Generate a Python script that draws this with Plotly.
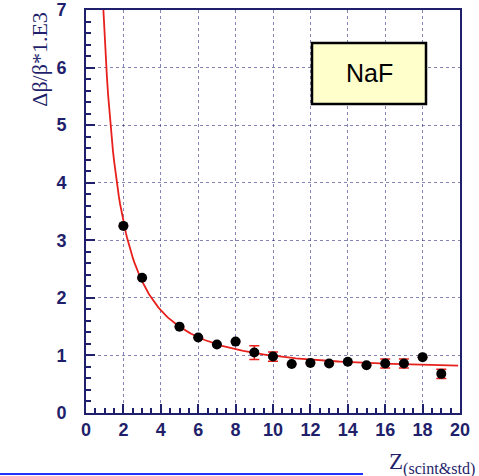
import numpy as np
import plotly.graph_objects as go

# Data
z_vals = [2, 3, 5, 6, 7, 8, 9, 10, 11, 12, 13, 14, 15, 16, 17, 18, 19]
res_vals = [3.25, 2.35, 1.50, 1.31, 1.19, 1.24, 1.05, 0.98, 0.85, 0.87, 0.86, 0.89, 0.83, 0.86, 0.86, 0.97, 0.68]
res_err = [0, 0, 0, 0, 0, 0, 0.12, 0.08, 0, 0, 0, 0, 0, 0.08, 0.08, 0, 0.08]

# Fit function parameters: sqrt(a/Z^2 + b)
fit_a = 41.9
fit_b = 0.57
fit_zmin, fit_zmax = 0.93, 19.9

x_ticks = [0, 2, 4, 6, 8, 10, 12, 14, 16, 18, 20]
y_ticks = [0, 1, 2, 3, 4, 5, 6, 7]

navy = "#1f1f6b"
gridc = "rgba(50,50,130,0.6)"

zf = np.linspace(fit_zmin, fit_zmax, 300)
yf = np.sqrt(fit_a / zf**2 + fit_b)

fig = go.Figure()
fig.add_trace(go.Scatter(x=zf, y=yf, mode="lines",
                         line=dict(color="#e8201c", width=1.8), showlegend=False,
                         hoverinfo="skip"))
fig.add_trace(go.Scatter(x=z_vals, y=res_vals, mode="markers",
                         marker=dict(color="black", size=10),
                         error_y=dict(type="data", array=res_err, color="#e8201c",
                                      thickness=1.5, width=5),
                         showlegend=False))

axis_common = dict(
    showline=True, linecolor=navy, linewidth=2, mirror=True,
    ticks="inside", tickcolor=navy, tickwidth=2, ticklen=9,
    showgrid=True, gridcolor=gridc, griddash="dot", gridwidth=1,
    zeroline=False, automargin=False,
    tickfont=dict(family="Liberation Sans, Arial", size=18, color=navy),
)

fig.update_xaxes(range=[0, 20], tickvals=x_ticks, ticktext=[f"<b>{v}</b>" for v in x_ticks],
                 minor=dict(dtick=0.5, tick0=0, ticks="inside", ticklen=5, tickcolor=navy,
                            tickwidth=2, showgrid=False),
                 ticklabelstandoff=-1, **axis_common)
fig.update_yaxes(range=[0, 7], tickvals=y_ticks, ticktext=[f"<b>{v}</b>" for v in y_ticks],
                 minor=dict(dtick=0.2, tick0=0, ticks="inside", ticklen=5, tickcolor=navy,
                            tickwidth=2, showgrid=False),
                 ticklabelstandoff=14, **axis_common)

fig.update_layout(
    width=479, height=476,
    margin=dict(l=86, r=19, t=10, b=63),
    plot_bgcolor="white", paper_bgcolor="white",
    annotations=[
        dict(text="Δβ/β*1.E3", xref="paper", yref="paper",
             x=-0.125, y=1.0, xanchor="center", yanchor="top", textangle=-90,
             showarrow=False,
             font=dict(family="Liberation Serif, Times New Roman", size=22, color=navy)),
        dict(text="Z<sub>(scint&amp;std)</sub>", xref="paper", yref="paper",
             x=1.045, y=-0.085, xanchor="right", yanchor="top", showarrow=False,
             font=dict(family="Liberation Serif, Times New Roman", size=23, color=navy)),
        dict(text="NaF", xref="paper", yref="paper",
             x=(369 - 86) / 374, y=(413 - 73) / 403, xanchor="center", yanchor="middle",
             showarrow=False,
             font=dict(family="Liberation Sans, Arial", size=25, color="black")),
    ],
    shapes=[
        dict(type="rect", xref="paper", yref="paper",
             x0=(312 - 86) / 374, x1=(426 - 86) / 374,
             y0=(413 - 104) / 403, y1=(413 - 43) / 403,
             fillcolor="#ffffcc", line=dict(color="black", width=2.5), layer="above"),
        dict(type="line", xref="paper", yref="paper",
             x0=-86 / 374, x1=(363 - 86) / 374,
             y0=(413 - 474) / 403, y1=(413 - 474) / 403,
             line=dict(color="#2233ff", width=2)),
    ],
)

fig.write_html("out.html", config={"displayModeBar": False},
               post_script="document.body.style.margin='0';document.body.style.overflow='hidden';")
